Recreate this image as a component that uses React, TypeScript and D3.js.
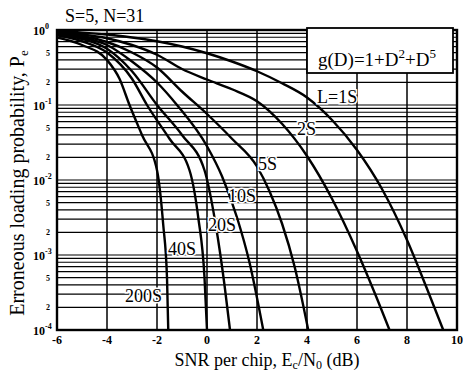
import React from 'react';
import * as d3 from 'd3';

const width = 463;
const height = 372;
const margin = { top: 30, right: 6, bottom: 42, left: 57 };

// SNR per chip (dB) and log10 of erroneous loading probability
const snr1S = [-6, -5, -4, -3, -2, -1, 0, 1, 2, 3, 4, 5, 6, 7, 8, 8.8, 9.45];
const logPe1S = [-0.02, -0.035, -0.06, -0.1, -0.15, -0.22, -0.31, -0.42, -0.55, -0.71, -0.9, -1.2, -1.6, -2.12, -2.8, -3.45, -4];

const snr2S = [-6, -5, -4, -3, -2, -1, 0, 1, 2, 3, 4, 5, 6, 6.7, 7.3];
const logPe2S = [-0.03, -0.06, -0.11, -0.2, -0.33, -0.52, -0.66, -0.79, -0.95, -1.25, -1.68, -2.25, -2.95, -3.5, -4];

const snr5S = [-6, -5, -4, -3, -2, -1, 0, 1, 2, 2.5, 3, 3.5, 4.05];
const logPe5S = [-0.04, -0.08, -0.16, -0.3, -0.5, -0.82, -1.12, -1.45, -1.82, -2.15, -2.58, -3.15, -4];

const snr10S = [-6, -5, -4, -3, -2, -1.2, 0, 0.6, 1.2, 1.7, 2.25];
const logPe10S = [-0.05, -0.1, -0.2, -0.42, -0.7, -1.0, -1.55, -1.95, -2.5, -3.1, -4];

const snr20S = [-6, -5, -4, -3, -2, -1, -0.1, 0.35, 0.7, 0.92];
const logPe20S = [-0.06, -0.12, -0.25, -0.55, -1.0, -1.4, -1.87, -2.6, -3.4, -4];

const snr40S = [-6, -5, -4, -3, -2.4, -1.5, -0.7, -0.35, -0.1, 0];
const logPe40S = [-0.07, -0.15, -0.3, -0.65, -1.0, -1.45, -1.87, -2.5, -3.3, -4];

const snr200S = [-6, -5, -4, -3.5, -3.1, -2.6, -2.0, -1.75, -1.6, -1.55];
const logPe200S = [-0.1, -0.2, -0.4, -0.65, -1.0, -1.4, -1.87, -2.6, -3.3, -4];

const curves = [
  { name: 'L=1S', snr: snr1S, logPe: logPe1S },
  { name: '2S', snr: snr2S, logPe: logPe2S },
  { name: '5S', snr: snr5S, logPe: logPe5S },
  { name: '10S', snr: snr10S, logPe: logPe10S },
  { name: '20S', snr: snr20S, logPe: logPe20S },
  { name: '40S', snr: snr40S, logPe: logPe40S },
  { name: '200S', snr: snr200S, logPe: logPe200S },
];

// where each curve label sits (dB, log10 Pe of the text baseline)
const labelSnr = [4.4, 3.6, 2.04, 0.84, 0.04, -1.56, -3.28];
const labelLogPe = [-0.97, -1.4, -1.87, -2.29, -2.68, -3.0, -3.63];

const xTicks = [-6, -4, -2, 0, 2, 4, 6, 8, 10];
const decades = [0, -1, -2, -3, -4];
const minorLabels = ['5', '2'];

const serif = '"Liberation Serif", "Times New Roman", serif';

export default function App() {
  const x = d3.scaleLinear().domain([-6, 10]).range([margin.left, width - margin.right]);
  const y = d3.scaleLog().domain([1e-4, 1]).range([height - margin.bottom, margin.top]);

  const line = d3.line<[number, number]>()
    .x(d => x(d[0]))
    .y(d => y(Math.pow(10, d[1])))
    .curve(d3.curveMonotoneX);

  const hGrid: number[] = [];
  for (let k = -4; k < 0; k++) {
    for (let m = 1; m <= 9; m++) hGrid.push(m * Math.pow(10, k));
  }

  const x0 = x(-6), x1 = x(10), y0 = y(1), y1 = y(1e-4);

  return (
    <div style={{ position: 'absolute', left: 0, top: 0 }}>
      <svg width={width} height={height} style={{ display: 'block', background: '#fff' }}>
        <defs>
          <clipPath id="plot">
            <rect x={x0} y={y0} width={x1 - x0} height={y1 - y0} />
          </clipPath>
        </defs>

        {/* grid */}
        <g stroke="#000" strokeWidth={1.2}>
          {hGrid.map((v, i) => (
            <line key={'h' + i} x1={x0} x2={x1} y1={y(v)} y2={y(v)} />
          ))}
          {xTicks.slice(1, -1).map(t => (
            <line key={'v' + t} x1={x(t)} x2={x(t)} y1={y0} y2={y1} strokeWidth={1.5} />
          ))}
        </g>

        {/* curves */}
        <g clipPath="url(#plot)" fill="none" stroke="#000" strokeWidth={2.4} strokeLinejoin="round">
          {curves.map(c => (
            <path key={c.name} d={line(c.snr.map((s, i) => [s, c.logPe[i]] as [number, number])) || ''} />
          ))}
        </g>

        {/* frame */}
        <rect x={x0} y={y0} width={x1 - x0} height={y1 - y0} fill="none" stroke="#000" strokeWidth={2.4} />

        {/* curve labels */}
        <g fontFamily={serif} fontSize={18} fill="#000" stroke="#fff" strokeWidth={3} style={{ paintOrder: 'stroke' }}>
          {curves.map((c, i) => (
            <text key={c.name} x={x(labelSnr[i])} y={y(Math.pow(10, labelLogPe[i]))}>{c.name}</text>
          ))}
        </g>

        {/* legend box */}
        <rect x={307} y={28} width={146} height={45} fill="#fff" stroke="#000" strokeWidth={1.8} />
        <text x={318} y={66} fontFamily={serif} fontSize={19}>
          g(D)=1+D<tspan fontSize={13} dy={-8}>2</tspan><tspan dy={8}>+D</tspan><tspan fontSize={13} dy={-8}>5</tspan>
        </text>

        {/* title */}
        <text x={65} y={22} fontFamily={serif} fontSize={18}>S=5, N=31</text>

        {/* x tick labels */}
        <g fontFamily={serif} fontSize={12} fontWeight="bold" textAnchor="middle">
          {xTicks.map(t => (
            <text key={t} x={x(t)} y={y1 + 14}>{t}</text>
          ))}
        </g>

        {/* y tick labels */}
        <g fontFamily={serif} fontWeight="bold">
          {decades.map(k => (
            <text key={'d' + k} x={33} y={y(Math.pow(10, k)) + 5} fontSize={12}>
              10<tspan fontSize={8} dy={-6}>{k}</tspan>
            </text>
          ))}
          {decades.slice(1).map(k =>
            minorLabels.map(m => (
              <text key={m + k} x={50} y={y(+m * Math.pow(10, k)) + 3} fontSize={8} textAnchor="end">{m}</text>
            ))
          )}
        </g>

        {/* axis titles */}
        <text x={(x0 + x1) / 2 + 10} y={366} fontFamily={serif} fontSize={18} textAnchor="middle">
          SNR per chip, E<tspan fontSize={12} dy={3}>c</tspan><tspan dy={-3}>/N</tspan><tspan fontSize={12} dy={3}>0</tspan><tspan dy={-3}> (dB)</tspan>
        </text>
        <text transform={`translate(24,${(y0 + y1) / 2 + 3}) rotate(-90)`} fontFamily={serif} fontSize={20} textAnchor="middle">
          Erroneous loading probability, P<tspan fontSize={13} dy={4}>e</tspan>
        </text>
      </svg>
    </div>
  );
}
